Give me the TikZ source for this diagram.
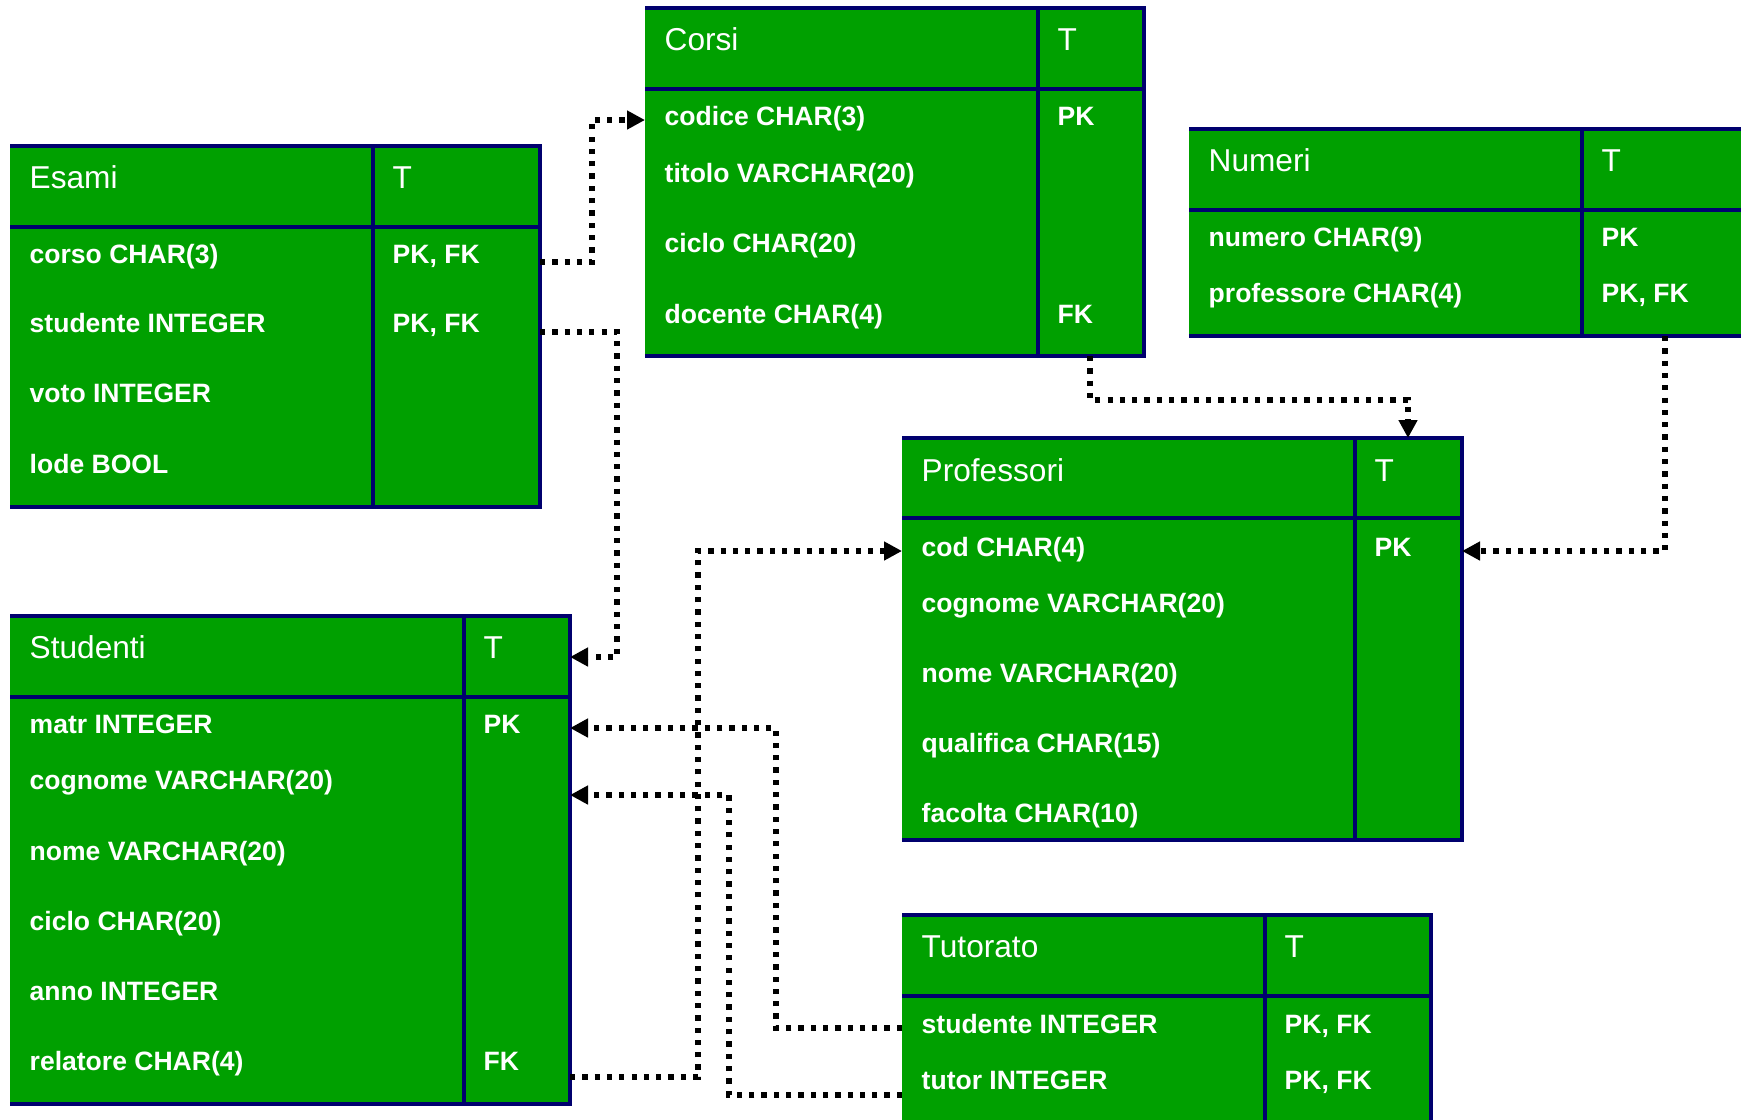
\documentclass[tikz,border=0pt]{standalone}
\usepackage{fontspec}
\setmainfont{Liberation Sans}
\usepackage{tikz}
\usepackage{xcolor}
\usetikzlibrary{positioning, arrows.meta}

\definecolor{tabgreen}{RGB}{0,160,0}
\definecolor{tabnavy}{RGB}{0,0,110}

\begin{document}
\begin{tikzpicture}[
        cell/.style={fill=tabgreen, inner sep=0pt, outer sep=0pt, anchor=north west},
        frame/.style={draw=tabnavy, line width=1pt},
        tabtitle/.style={text=white, anchor=base west, inner sep=0pt, font=\fontsize{9}{10}\selectfont},
        attr/.style={text=white, anchor=base west, inner sep=0pt, font=\fontsize{7.55}{9}\selectfont\bfseries},
        link/.style={line width=1.5pt, dash pattern=on 1.5pt off 2pt, -{Triangle[length=0.18cm, width=0.18cm]}}
    ]
        \useasboundingbox (0, 0) rectangle (17.41, -11.19);

        % Esami
        \node[cell, minimum width=3.63cm, minimum height=0.81cm] (esami-n) at (0.10, -1.46) {};
        \node[cell, minimum width=1.67cm, minimum height=0.81cm, right=0pt of esami-n] (esami-t) {};
        \node[cell, minimum width=3.63cm, minimum height=2.80cm, below=0pt of esami-n] (esami-c) {};
        \node[cell, minimum width=1.67cm, minimum height=2.80cm, below=0pt of esami-t] (esami-k) {};
        \draw[frame] (esami-n.north west) -- (esami-t.north east) -- (esami-k.south east) -- (esami-c.south west)
            (esami-n.south west) to (esami-t.south east)
            (esami-t.north west) to (esami-k.south west);
        \node[tabtitle] (esami-titolo) at (0.29, -1.88) {Esami};
        \node[tabtitle] (esami-tipo) at (3.92, -1.88) {T};
        \node[attr] (esami-corso) at (0.29, -2.63) {corso CHAR(3)};
        \node[attr] (esami-corso-k) at (3.92, -2.63) {PK, FK};
        \node[attr] (esami-studente) at (0.29, -3.32) {studente INTEGER};
        \node[attr] (esami-studente-k) at (3.92, -3.32) {PK, FK};
        \node[attr] (esami-voto) at (0.29, -4.02) {voto INTEGER};
        \node[attr] (esami-lode) at (0.29, -4.73) {lode BOOL};

        % Corsi
        \node[cell, minimum width=3.93cm, minimum height=0.81cm] (corsi-n) at (6.45, -0.08) {};
        \node[cell, minimum width=1.06cm, minimum height=0.81cm, right=0pt of corsi-n] (corsi-t) {};
        \node[cell, minimum width=3.93cm, minimum height=2.67cm, below=0pt of corsi-n] (corsi-c) {};
        \node[cell, minimum width=1.06cm, minimum height=2.67cm, below=0pt of corsi-t] (corsi-k) {};
        \draw[frame] (corsi-n.north west) -- (corsi-t.north east) -- (corsi-k.south east) -- (corsi-c.south west)
            (corsi-n.south west) to (corsi-t.south east)
            (corsi-t.north west) to (corsi-k.south west);
        \node[tabtitle] (corsi-titolo) at (6.64, -0.50) {Corsi};
        \node[tabtitle] (corsi-tipo) at (10.57, -0.50) {T};
        \node[attr] (corsi-codice) at (6.64, -1.25) {codice CHAR(3)};
        \node[attr] (corsi-codice-k) at (10.57, -1.25) {PK};
        \node[attr] (corsi-titolo2) at (6.64, -1.82) {titolo VARCHAR(20)};
        \node[attr] (corsi-ciclo) at (6.64, -2.52) {ciclo CHAR(20)};
        \node[attr] (corsi-docente) at (6.64, -3.23) {docente CHAR(4)};
        \node[attr] (corsi-docente-k) at (10.57, -3.23) {FK};

        % Numeri
        \node[cell, minimum width=3.93cm, minimum height=0.81cm] (numeri-n) at (11.89, -1.29) {};
        \node[cell, minimum width=2.00cm, minimum height=0.81cm, right=0pt of numeri-n] (numeri-t) {};
        \node[cell, minimum width=3.93cm, minimum height=1.26cm, below=0pt of numeri-n] (numeri-c) {};
        \node[cell, minimum width=2.00cm, minimum height=1.26cm, below=0pt of numeri-t] (numeri-k) {};
        \draw[frame] (numeri-n.north west) -- (numeri-t.north east) -- (numeri-k.south east) -- (numeri-c.south west)
            (numeri-n.south west) to (numeri-t.south east)
            (numeri-t.north west) to (numeri-k.south west);
        \node[tabtitle] (numeri-titolo) at (12.08, -1.71) {Numeri};
        \node[tabtitle] (numeri-tipo) at (16.01, -1.71) {T};
        \node[attr] (numeri-numero) at (12.08, -2.46) {numero CHAR(9)};
        \node[attr] (numeri-numero-k) at (16.01, -2.46) {PK};
        \node[attr] (numeri-professore) at (12.08, -3.02) {professore CHAR(4)};
        \node[attr] (numeri-professore-k) at (16.01, -3.02) {PK, FK};

        % Professori
        \node[cell, minimum width=4.53cm, minimum height=0.80cm] (professori-n) at (9.02, -4.38) {};
        \node[cell, minimum width=1.07cm, minimum height=0.80cm, right=0pt of professori-n] (professori-t) {};
        \node[cell, minimum width=4.53cm, minimum height=3.22cm, below=0pt of professori-n] (professori-c) {};
        \node[cell, minimum width=1.07cm, minimum height=3.22cm, below=0pt of professori-t] (professori-k) {};
        \draw[frame] (professori-n.north west) -- (professori-t.north east) -- (professori-k.south east) -- (professori-c.south west)
            (professori-n.south west) to (professori-t.south east)
            (professori-t.north west) to (professori-k.south west);
        \node[tabtitle] (professori-titolo) at (9.21, -4.81) {Professori};
        \node[tabtitle] (professori-tipo) at (13.74, -4.81) {T};
        \node[attr] (professori-cod) at (9.21, -5.56) {cod CHAR(4)};
        \node[attr] (professori-cod-k) at (13.74, -5.56) {PK};
        \node[attr] (professori-cognome) at (9.21, -6.12) {cognome VARCHAR(20)};
        \node[attr] (professori-nome) at (9.21, -6.82) {nome VARCHAR(20)};
        \node[attr] (professori-qualifica) at (9.21, -7.52) {qualifica CHAR(15)};
        \node[attr] (professori-facolta) at (9.21, -8.22) {facolta CHAR(10)};

        % Tutorato
        \node[cell, minimum width=3.63cm, minimum height=0.81cm] (tutorato-n) at (9.02, -9.15) {};
        \node[cell, minimum width=1.66cm, minimum height=0.81cm, right=0pt of tutorato-n] (tutorato-t) {};
        \node[cell, minimum width=3.63cm, minimum height=2.00cm, below=0pt of tutorato-n] (tutorato-c) {};
        \node[cell, minimum width=1.66cm, minimum height=2.00cm, below=0pt of tutorato-t] (tutorato-k) {};
        \draw[frame] (tutorato-n.north west) -- (tutorato-t.north east) -- (tutorato-k.south east)
            (tutorato-n.south west) to (tutorato-t.south east)
            (tutorato-t.north west) to (tutorato-k.south west);
        \node[tabtitle] (tutorato-titolo) at (9.21, -9.57) {Tutorato};
        \node[tabtitle] (tutorato-tipo) at (12.84, -9.57) {T};
        \node[attr] (tutorato-studente) at (9.21, -10.33) {studente INTEGER};
        \node[attr] (tutorato-studente-k) at (12.84, -10.33) {PK, FK};
        \node[attr] (tutorato-tutor) at (9.21, -10.89) {tutor INTEGER};
        \node[attr] (tutorato-tutor-k) at (12.84, -10.89) {PK, FK};

        % Studenti
        \node[cell, minimum width=4.54cm, minimum height=0.81cm] (studenti-n) at (0.10, -6.16) {};
        \node[cell, minimum width=1.06cm, minimum height=0.81cm, right=0pt of studenti-n] (studenti-t) {};
        \node[cell, minimum width=4.54cm, minimum height=4.07cm, below=0pt of studenti-n] (studenti-c) {};
        \node[cell, minimum width=1.06cm, minimum height=4.07cm, below=0pt of studenti-t] (studenti-k) {};
        \draw[frame] (studenti-n.north west) -- (studenti-t.north east) -- (studenti-k.south east) -- (studenti-c.south west)
            (studenti-n.south west) to (studenti-t.south east)
            (studenti-t.north west) to (studenti-k.south west);
        \node[tabtitle] (studenti-titolo) at (0.29, -6.58) {Studenti};
        \node[tabtitle] (studenti-tipo) at (4.83, -6.58) {T};
        \node[attr] (studenti-matr) at (0.29, -7.33) {matr INTEGER};
        \node[attr] (studenti-matr-k) at (4.83, -7.33) {PK};
        \node[attr] (studenti-cognome) at (0.29, -7.89) {cognome VARCHAR(20)};
        \node[attr] (studenti-nome) at (0.29, -8.60) {nome VARCHAR(20)};
        \node[attr] (studenti-ciclo) at (0.29, -9.30) {ciclo CHAR(20)};
        \node[attr] (studenti-anno) at (0.29, -10.00) {anno INTEGER};
        \node[attr] (studenti-relatore) at (0.29, -10.70) {relatore CHAR(4)};
        \node[attr] (studenti-relatore-k) at (4.83, -10.70) {FK};

        % ports on the table edges
        \coordinate (p-esami-corso) at (5.40, -2.62);
        \coordinate (p-esami-studente) at (5.40, -3.32);
        \coordinate (p-corsi-codice) at (6.45, -1.20);
        \coordinate (p-corsi-docente) at (10.90, -3.56);
        \coordinate (p-numeri-professore) at (16.65, -3.36);
        \coordinate (p-professori-t) at (14.08, -4.38);
        \coordinate (p-professori-cod-e) at (14.62, -5.51);
        \coordinate (p-professori-cod-w) at (9.02, -5.51);
        \coordinate (p-tutorato-studente) at (9.02, -10.28);
        \coordinate (p-tutorato-tutor) at (9.02, -10.95);
        \coordinate (p-studenti-t) at (5.70, -6.57);
        \coordinate (p-studenti-matr) at (5.70, -7.28);
        \coordinate (p-studenti-cognome) at (5.70, -7.95);
        \coordinate (p-studenti-relatore) at (5.70, -10.77);

        \draw[link] (p-esami-corso) -- ++(0.52, 0) |- (p-corsi-codice);
        \draw[link] (p-esami-studente) -- ++(0.77, 0) |- (p-studenti-t);
        \draw[link] (p-corsi-docente) -- ++(0, -0.44) -| (p-professori-t);
        \draw[link] (p-numeri-professore) |- (p-professori-cod-e);
        \draw[link] (p-studenti-relatore) -- ++(1.28, 0) |- (p-professori-cod-w);
        \draw[link] (p-tutorato-studente) -- ++(-1.26, 0) |- (p-studenti-matr);
        \draw[link] (p-tutorato-tutor) -- ++(-1.73, 0) |- (p-studenti-cognome);
    \end{tikzpicture}
\end{document}
